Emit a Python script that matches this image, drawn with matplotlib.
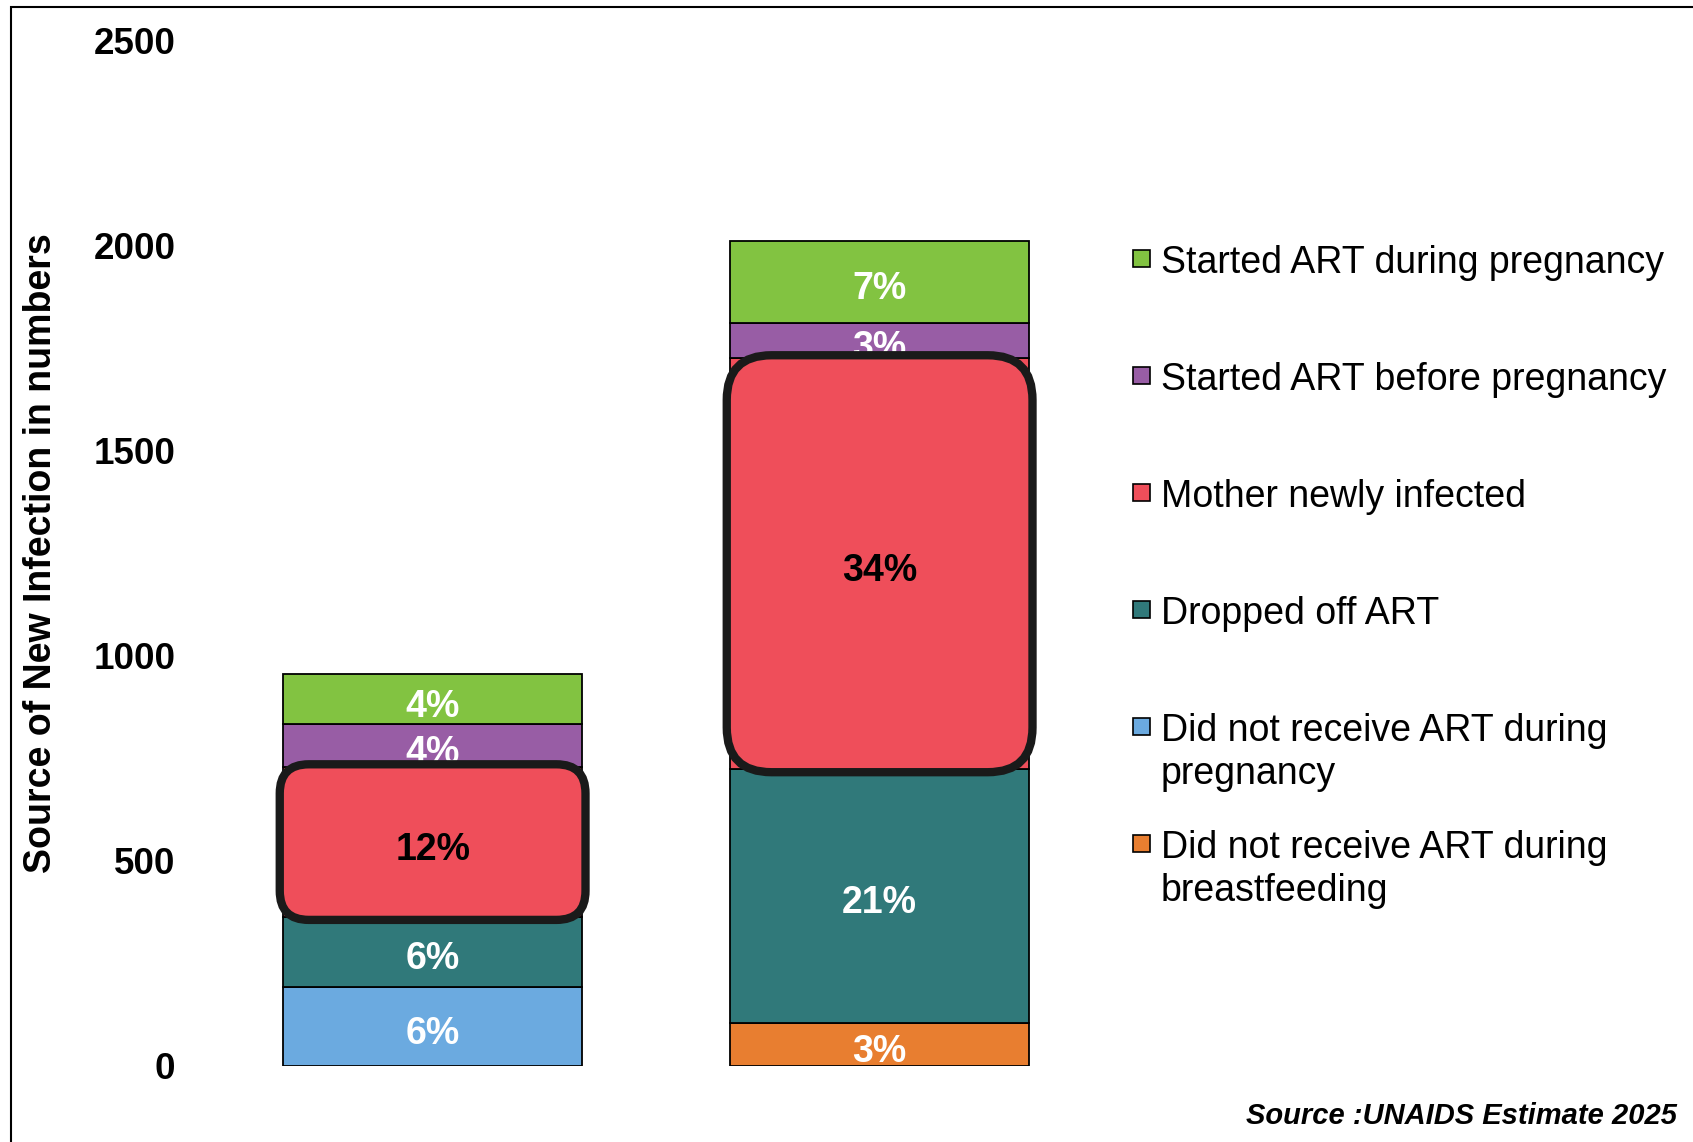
"""
Source of new infections - stacked bars with highlighted "mother newly infected" segment
"""
import numpy as np
import matplotlib
matplotlib.use("Agg")
import matplotlib.pyplot as plt
from matplotlib.patches import FancyBboxPatch, Rectangle

plt.rcParams["font.family"] = ["Liberation Sans", "DejaVu Sans"]

# ── data (stack order bottom -> top) ───────────────────────────────────────────
series_names = [
    "Did not receive ART during\nbreastfeeding",
    "Did not receive ART during\npregnancy",
    "Dropped off ART",
    "Mother newly infected",
    "Started ART before pregnancy",
    "Started ART during pregnancy",
]
series_colors = ["#E87E30", "#6BAAE0", "#30797A", "#EF4E5A", "#985DA5", "#82C341"]

no_art_breastfeeding = [0, 105]
no_art_pregnancy = [193, 0]
dropped_off = [170, 618]
newly_infected = [364, 1001]
before_pregnancy = [105, 87]
during_pregnancy = [123, 200]

pct_breastfeeding = ["", "3%"]
pct_pregnancy = ["6%", ""]
pct_dropped = ["6%", "21%"]
pct_newly = ["12%", "34%"]
pct_before = ["4%", "3%"]
pct_during = ["4%", "7%"]

yticks = [0, 500, 1000, 1500, 2000, 2500]

values = [no_art_breastfeeding, no_art_pregnancy, dropped_off,
          newly_infected, before_pregnancy, during_pregnancy]
pcts = [pct_breastfeeding, pct_pregnancy, pct_dropped,
        pct_newly, pct_before, pct_during]

W, H = 1693, 1142
fig = plt.figure(figsize=(W / 100, H / 100), dpi=100)
ax = fig.add_axes([185 / W, 1 - 1065.7 / H, 915 / W, 1025.7 / H])

x = np.arange(len(no_art_breastfeeding))
bar_w = 0.67
bottom = np.zeros(len(x))
red_bottom = None
for vals, labels, name, color in zip(values, pcts, series_names, series_colors):
    bars = ax.bar(x, vals, bar_w, bottom=bottom, color=color,
                  edgecolor="black", linewidth=1.3, zorder=2)
    txt_color = "black" if name == "Mother newly infected" else "white"
    anns = ax.bar_label(bars, labels=labels, label_type="center",
                        fontsize=27, fontweight="bold", color=txt_color)
    for a in anns:
        a.set_verticalalignment("center_baseline")
        a.xyann = (0, -2.5)
        a.set_zorder(6 if name == "Mother newly infected" else 3)
    if name == "Mother newly infected":
        red_bottom = bottom.copy()
    bottom = bottom + np.array(vals)

ax.set_xlim(-0.554, 1.493)
ax.set_ylim(0, 2500)

# rounded highlight around "Mother newly infected"
p0 = ax.transData.transform((0, 0))
p1 = ax.transData.transform((1, 1))
aspect = (p1[0] - p0[0]) / (p1[1] - p0[1])
for i, r in zip(x, [0.065, 0.1]):
    box = FancyBboxPatch((i - bar_w / 2, red_bottom[i]), bar_w, newly_infected[i],
                         boxstyle=f"round,pad=0.007,rounding_size={r}",
                         mutation_aspect=aspect, facecolor="#EF4E5A",
                         edgecolor="#1a1a1a", linewidth=6, zorder=5)
    ax.add_patch(box)

ax.set_yticks(yticks)
ax.set_yticklabels([str(t) for t in yticks], fontsize=26.5, fontweight="bold")
ax.tick_params(axis="y", length=0, pad=7)
ax.set_xticks([])
for s in ax.spines.values():
    s.set_visible(False)

fig.text(41 / W, 1 - 553 / H, "Source of New Infection in numbers",
         rotation=90, ha="center", va="center", fontsize=27, fontweight="bold",
         family=["Liberation Sans Narrow", "Liberation Sans", "DejaVu Sans"])

# legend (top -> bottom), marker sits on the first text line
for k, (name, color) in enumerate(zip(series_names[::-1], series_colors[::-1])):
    yc = 259 + 117 * k
    fig.patches.append(Rectangle((1133 / W, 1 - (yc + 8) / H), 17 / W, 17 / H,
                                 facecolor=color, edgecolor="black", linewidth=1.2,
                                 transform=fig.transFigure, figure=fig))
    for j, line in enumerate(name.split("\n")):
        fig.text(1161 / W, 1 - (yc + 43 * j) / H, line, ha="left",
                 va="center_baseline", fontsize=27)

fig.text(1677 / W, 1 - 1116 / H, "Source :UNAIDS Estimate 2025", ha="right",
         va="center", fontsize=21, fontweight="bold", style="italic")

# outer frame
fig.patches.append(Rectangle((11 / W, -0.1), 1.2, 1.1 - 7.5 / H, fill=False,
                             edgecolor="black", linewidth=1.5,
                             transform=fig.transFigure, figure=fig))

fig.savefig("out.png", dpi=100)
